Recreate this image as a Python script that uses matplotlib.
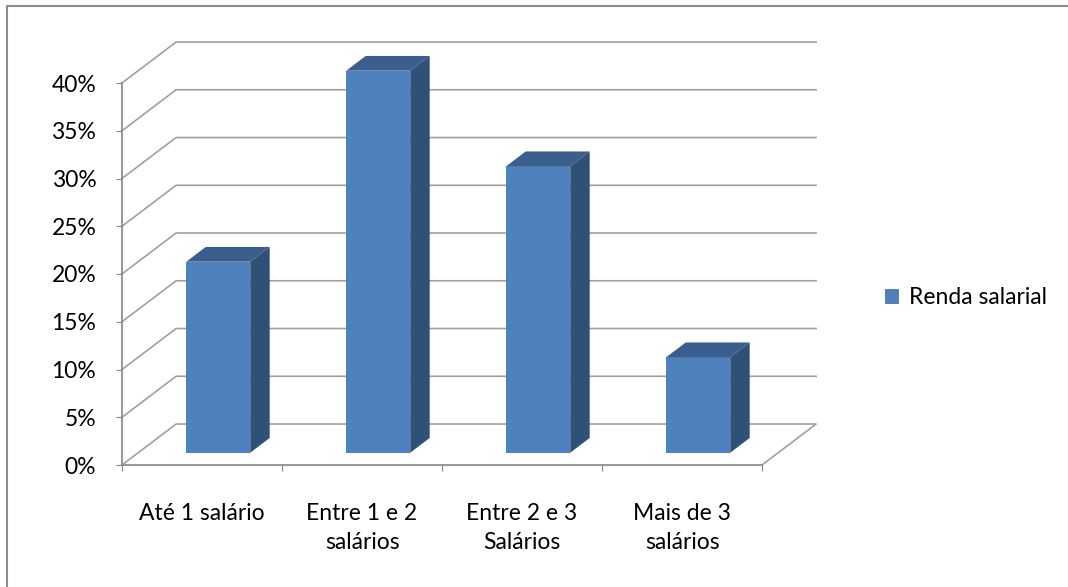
import matplotlib
matplotlib.use('Agg')
import matplotlib.pyplot as plt
from matplotlib.patches import Polygon
from matplotlib.lines import Line2D
import numpy as np

# data
categories = ['Até 1 salário', 'Entre 1 e 2\nsalários', 'Entre 2 e 3\nSalários', 'Mais de 3\nsalários']
values = [20, 40, 30, 10]
seriesName = 'Renda salarial'
yticks = [0, 5, 10, 15, 20, 25, 30, 35, 40]

#* fake 3d: oblique offset of the back wall in data units
DX, DY = 0.338, 4.29
D0, D1 = 0.30, 0.66     # bar depth (front, back) as fraction of floor depth
W0, W1 = 0.30, 0.70     # bar span inside a category

FRONT = '#4F81BD'
TOP = '#3B5F8D'
SIDE = '#2F5077'
GRID = '#A0A0A0'
AXIS = '#868686'
FS = 16.5

plt.rcParams['font.family'] = ['Lato', 'DejaVu Sans']

fig = plt.figure(figsize=(10.68, 5.87), dpi=100)
ax = fig.add_axes([122/1068, 122/587, 640/1068, 382/587])
ax.set_xlim(0, len(categories))
ax.set_ylim(0, yticks[-1])
ax.patch.set_visible(False)

nCat = len(categories)

#* back wall + side wall gridlines
for v in yticks[1:]:
    ax.plot([0, DX, nCat + DX], [v, v + DY, v + DY], color=GRID, lw=1.2,
            clip_on=False, zorder=1)
#* floor
ax.plot([0, DX, nCat + DX, nCat], [0, DY, DY, 0], color=GRID, lw=1.2,
        clip_on=False, zorder=1)

#* bars: front face through ax.bar, top and side faces as polygons
xFront = np.arange(nCat) + W0 + D0 * DX
yBase = D0 * DY
bw = W1 - W0
bars = ax.bar(xFront, values, width=bw, bottom=yBase, align='edge',
              color=FRONT, zorder=3, clip_on=False, label=seriesName)
ddx = (D1 - D0) * DX
ddy = (D1 - D0) * DY
for x0, v in zip(xFront, values):
    x1 = x0 + bw
    yTop = yBase + v
    ax.add_patch(Polygon([(x0, yTop), (x1, yTop), (x1 + ddx, yTop + ddy), (x0 + ddx, yTop + ddy)],
                         closed=True, facecolor=TOP, edgecolor='none', zorder=3, clip_on=False))
    ax.add_patch(Polygon([(x1, yBase), (x1, yTop), (x1 + ddx, yTop + ddy), (x1 + ddx, yBase + ddy)],
                         closed=True, facecolor=SIDE, edgecolor='none', zorder=3, clip_on=False))

#* axes
for s in ['top', 'right']:
    ax.spines[s].set_visible(False)
for s in ['left', 'bottom']:
    ax.spines[s].set_color(AXIS)
    ax.spines[s].set_linewidth(1.2)

ax.set_yticks(yticks)
ax.set_yticklabels([f'{v}%' for v in yticks])
ax.tick_params(axis='y', direction='out', length=4.5, color=AXIS, pad=14,
               labelsize=FS, labelcolor='black')

ax.set_xticks(np.arange(nCat + 1))
ax.set_xticklabels([])
ax.tick_params(axis='x', which='major', direction='out', length=4.5, color=AXIS)
ax.set_xticks(np.arange(nCat) + 0.5, minor=True)
ax.set_xticklabels(categories, minor=True, linespacing=1.5)
ax.tick_params(axis='x', which='minor', length=0, pad=27, labelsize=FS,
               labelcolor='black')

fig.legend(handles=[bars], loc='center left', bbox_to_anchor=(876/1068, 1 - 298/587),
           frameon=False, fontsize=FS, handlelength=0.6, handleheight=0.6,
           handletextpad=0.45, borderaxespad=0)

#* chart area border (only top and left visible in the crop)
fig.add_artist(Line2D([7/1068, 7/1068, 1], [0, 1 - 6/587, 1 - 6/587],
                      transform=fig.transFigure, color='#8C8C8C', lw=1.5))

fig.savefig('out.png', dpi=100)
